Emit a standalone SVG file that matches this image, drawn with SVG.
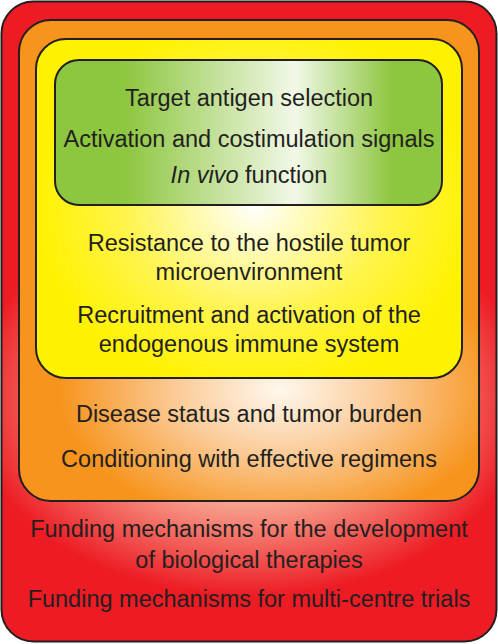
<svg xmlns="http://www.w3.org/2000/svg" width="498" height="644" viewBox="0 0 498 644">
<defs>
<radialGradient id="gRed" gradientUnits="userSpaceOnUse" cx="249" cy="400" r="330" gradientTransform="translate(249 400) scale(1 0.7) translate(-249 -400)">
<stop offset="0" stop-color="#FFFFFF"/>
<stop offset="0.45" stop-color="#F7A28E"/>
<stop offset="0.85" stop-color="#ED1C24"/>
<stop offset="1" stop-color="#ED1C24"/>
</radialGradient>
<radialGradient id="gOrange" gradientUnits="userSpaceOnUse" cx="280" cy="390" r="260" gradientTransform="translate(280 390) scale(1 0.62) translate(-280 -390)">
<stop offset="0" stop-color="#FFF8EE"/>
<stop offset="0.4" stop-color="#FBCB98"/>
<stop offset="0.85" stop-color="#F7941D"/>
<stop offset="1" stop-color="#F7941D"/>
</radialGradient>
<radialGradient id="gYellow" gradientUnits="userSpaceOnUse" cx="255" cy="205" r="220" gradientTransform="translate(255 205) scale(1 0.85) translate(-255 -205)">
<stop offset="0" stop-color="#FFFFFF"/>
<stop offset="0.6" stop-color="#FFF44A"/>
<stop offset="1" stop-color="#FFF200"/>
</radialGradient>
<linearGradient id="gGreen" gradientUnits="userSpaceOnUse" x1="55" y1="0" x2="442" y2="0">
<stop offset="0" stop-color="#8DC63F"/>
<stop offset="0.18" stop-color="#8DC63F"/>
<stop offset="0.62" stop-color="#F2F8E8"/>
<stop offset="0.87" stop-color="#8DC63F"/>
<stop offset="1" stop-color="#8DC63F"/>
</linearGradient>
</defs>
<style>
.box{stroke:#231F20;stroke-width:2}
.t{font-family:"Liberation Sans",Arial,sans-serif;font-size:23.5px;fill:#231F20;text-anchor:middle}
.i{font-style:italic}
</style>
<g id="funding">
<rect class="box" x="1.5" y="1.5" width="495" height="640" rx="32" fill="url(#gRed)"/>
<text class="t" x="249" y="537">Funding mechanisms for the development</text>
<text class="t" x="249" y="568">of biological therapies</text>
<text class="t" x="249" y="607">Funding mechanisms for multi-centre trials</text>
</g>
<g id="clinical">
<rect class="box" x="19" y="20" width="460" height="481" rx="32" fill="url(#gOrange)"/>
<text class="t" x="249" y="422">Disease status and tumor burden</text>
<text class="t" x="249" y="467">Conditioning with effective regimens</text>
</g>
<g id="environment">
<rect class="box" x="36" y="39" width="426" height="339" rx="30" fill="url(#gYellow)"/>
<text class="t" x="249" y="251">Resistance to the hostile tumor</text>
<text class="t" x="249" y="280">microenvironment</text>
<text class="t" x="249" y="323">Recruitment and activation of the</text>
<text class="t" x="249" y="352">endogenous immune system</text>
</g>
<g id="design">
<rect class="box" x="55" y="60" width="387" height="145" rx="24" fill="url(#gGreen)"/>
<text class="t" x="249" y="106">Target antigen selection</text>
<text class="t" x="249" y="147">Activation and costimulation signals</text>
<text class="t" x="249" y="183"><tspan class="i">In vivo</tspan> function</text>
</g>
<g id="connectors"/>
</svg>
